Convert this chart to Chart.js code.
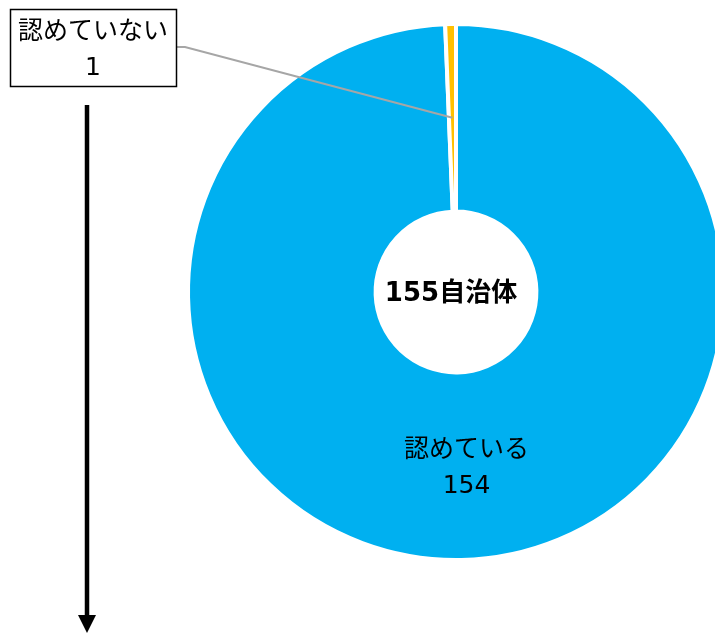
<!DOCTYPE html>
<html>
<head>
<meta charset="utf-8">
<script src="https://cdn.jsdelivr.net/npm/chart.js@4.4.0/dist/chart.umd.min.js"></script>
<style>
  html, body { margin: 0; padding: 0; background: #fff; overflow: hidden; }
  #wrap { position: relative; width: 740px; height: 633px; }
</style>
</head>
<body>
<div id="wrap"><canvas id="grafico" width="740" height="633"></canvas></div>
<script>
// datos
var etiquetas = ['認めている', '認めていない'];
var valores = [154, 1];
var colores = ['#00B0F0', '#FFC000'];
var textoCentro = '155自治体';

var fuente = '"DejaVu Sans", "Noto Sans CJK JP", sans-serif';

var pluginTextos = {
    id: 'textos',
    afterDraw: function (chart) {
        var ctx = chart.ctx;
        var meta = chart.getDatasetMeta(0);
        var arcoAzul = meta.data[0];
        var arcoNaranja = meta.data[1];
        var cx = arcoAzul.x, cy = arcoAzul.y;

        ctx.save();
        ctx.textAlign = 'center';
        ctx.textBaseline = 'middle';
        ctx.fillStyle = '#000';

        // texto del centro
        ctx.font = 'bold 26px ' + fuente;
        ctx.fillText(textoCentro, cx - 5, cy + 2);

        // etiqueta dentro del arco grande
        var p = arcoAzul.tooltipPosition();
        ctx.font = '25px ' + fuente;
        ctx.fillText(etiquetas[0], p.x + 7, p.y - 16);
        ctx.fillText(String(valores[0]), p.x + 7, p.y + 20);

        // linea guia al arco pequeño
        var q = arcoNaranja.tooltipPosition();
        ctx.strokeStyle = '#A6A6A6';
        ctx.lineWidth = 2;
        ctx.beginPath();
        ctx.moveTo(177, 47);
        ctx.lineTo(185, 47);
        ctx.lineTo(q.x, q.y);
        ctx.stroke();

        // caja de la etiqueta
        ctx.fillStyle = '#fff';
        ctx.fillRect(10, 9, 167, 78);
        ctx.strokeStyle = '#000';
        ctx.lineWidth = 1.5;
        ctx.strokeRect(10.5, 9.5, 166, 77);
        ctx.fillStyle = '#000';
        ctx.font = '25px ' + fuente;
        ctx.fillText(etiquetas[1], 93, 32);
        ctx.fillText(String(valores[1]), 93, 68);

        // flecha
        ctx.strokeStyle = '#000';
        ctx.lineWidth = 4.5;
        ctx.beginPath();
        ctx.moveTo(87, 105);
        ctx.lineTo(87, 618);
        ctx.stroke();
        ctx.beginPath();
        ctx.moveTo(78, 615);
        ctx.lineTo(96, 615);
        ctx.lineTo(87, 633);
        ctx.closePath();
        ctx.fill();
        ctx.restore();
    }
};

var miCanvas = document.getElementById('grafico').getContext('2d');
var miGrafico = new Chart(miCanvas, {
    type: 'doughnut',
    data: {
        labels: etiquetas,
        datasets: [{
            data: valores,
            backgroundColor: colores,
            borderColor: '#ffffff',
            borderWidth: 4
        }]
    },
    options: {
        responsive: false,
        animation: false,
        cutout: '30%',
        layout: {
            padding: { left: 186, top: 22, right: 14, bottom: 71 }
        },
        plugins: {
            legend: { display: false },
            tooltip: { enabled: false }
        }
    },
    plugins: [pluginTextos]
});
</script>
</body>
</html>
